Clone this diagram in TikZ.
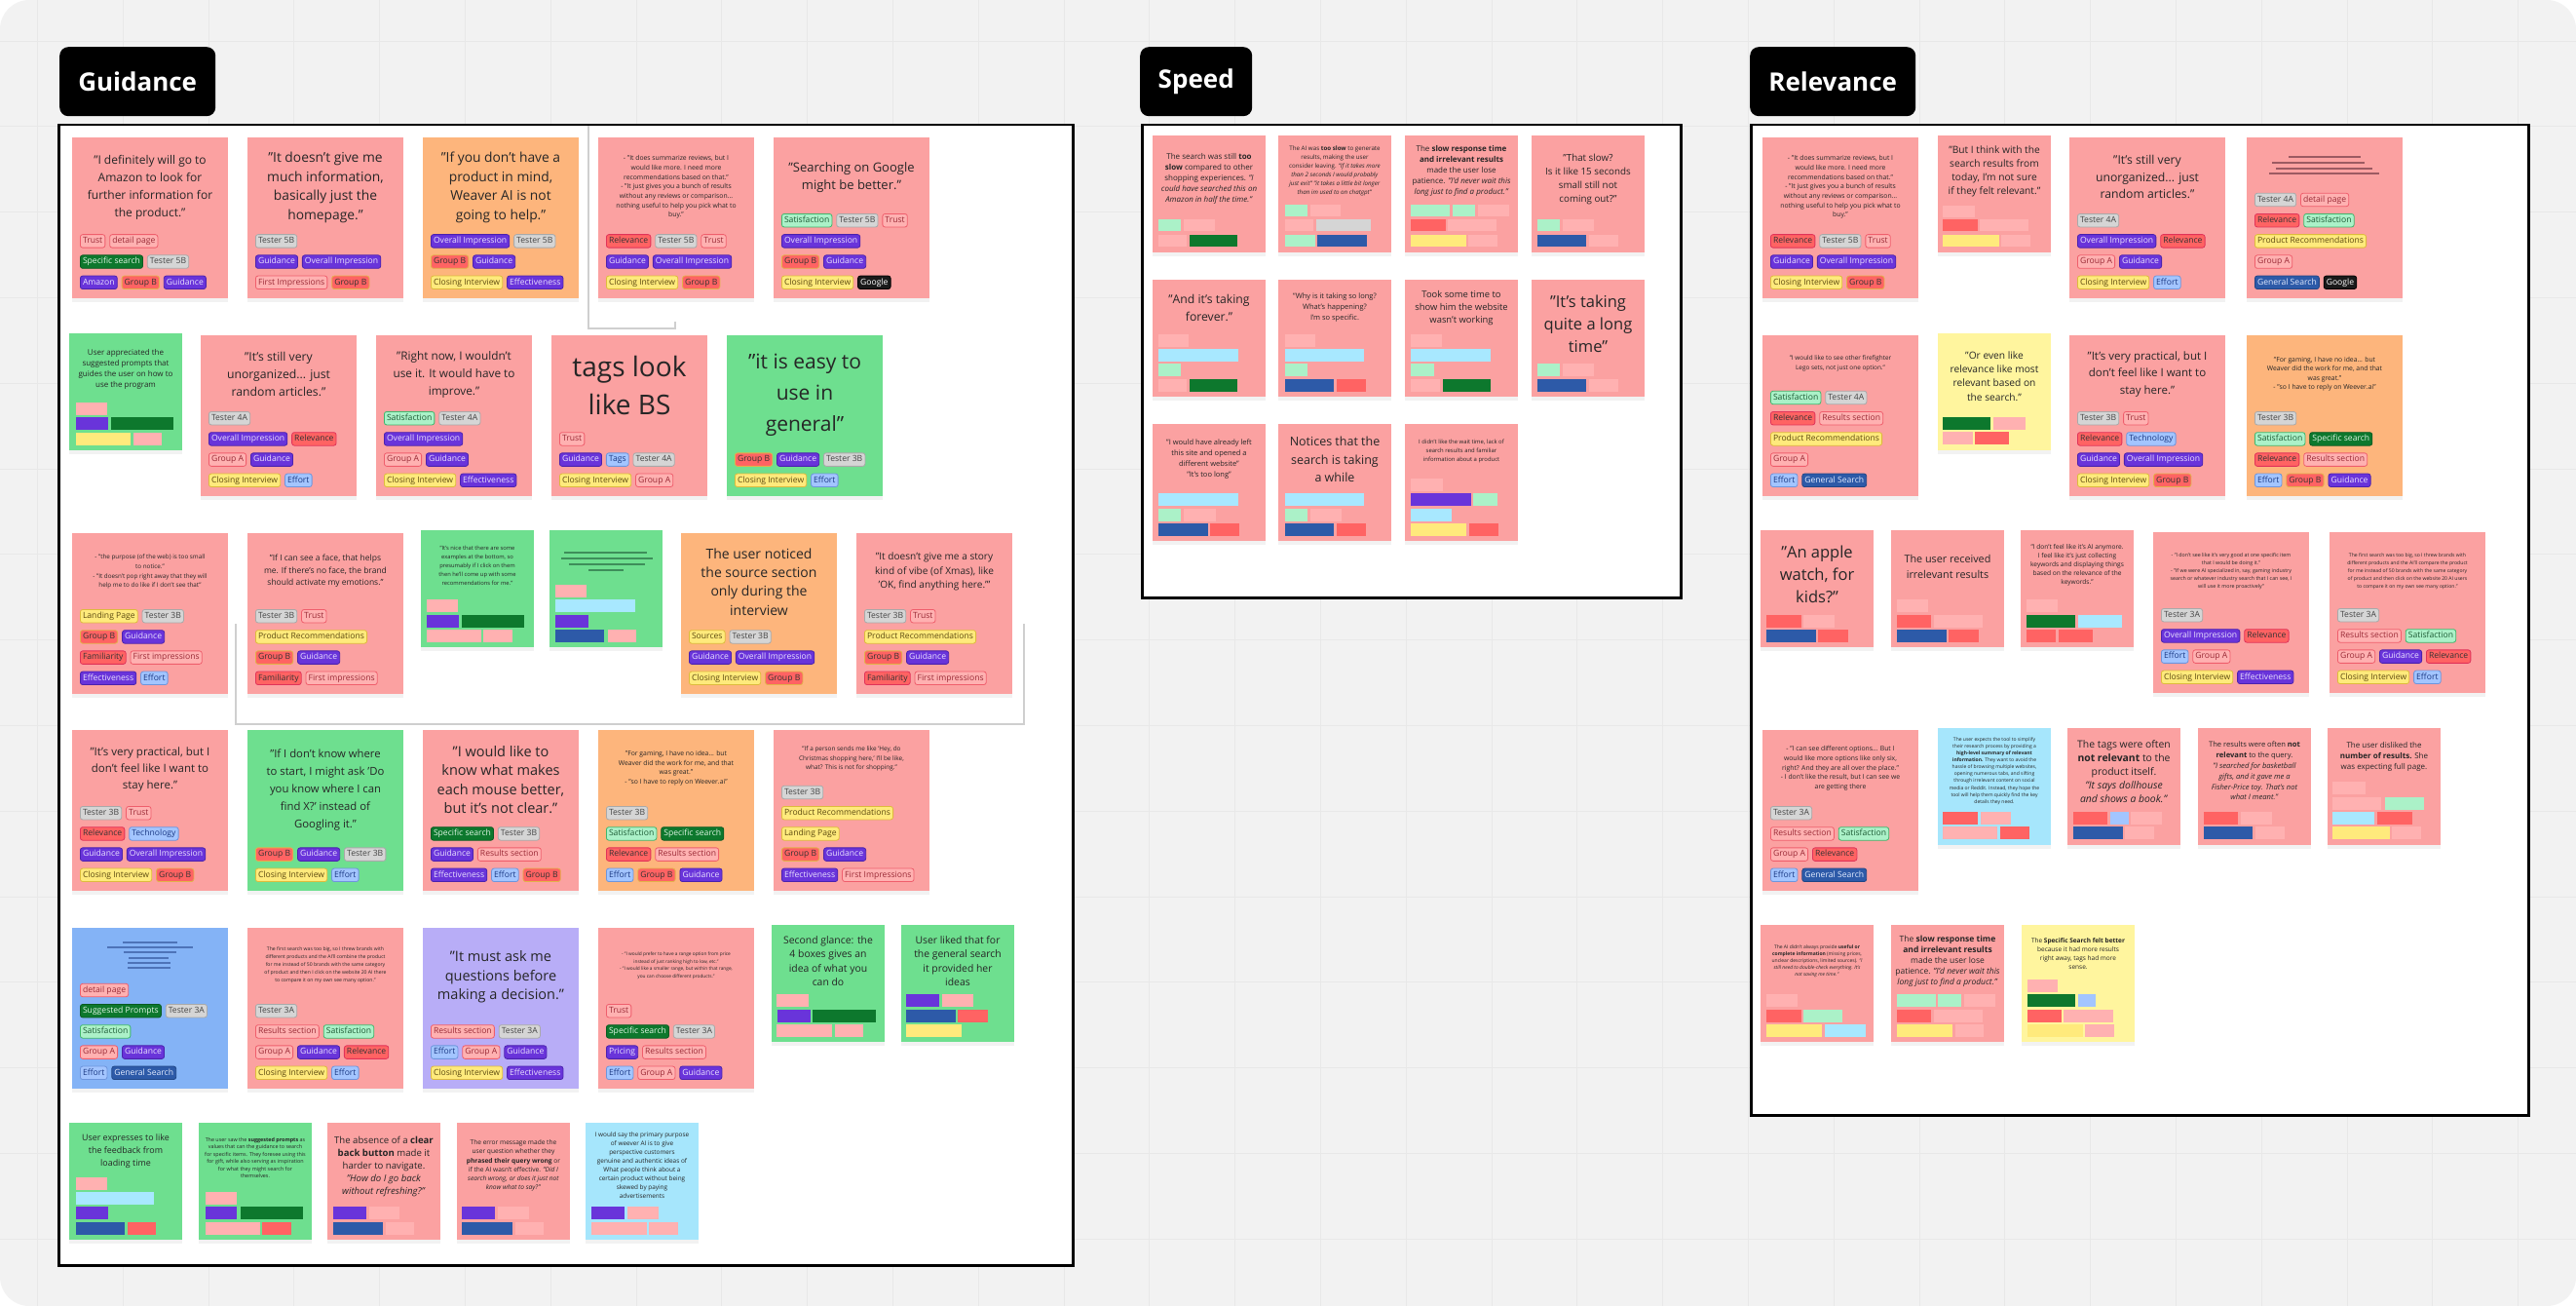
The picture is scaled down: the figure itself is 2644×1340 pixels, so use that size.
\documentclass[tikz,border=0pt]{standalone}
\usepackage{fontspec}
\setmainfont{Open Sans}
\usetikzlibrary{positioning,calc,shadows}
% sticky colours
\definecolor{ink}    {HTML}{262626}
\definecolor{board}  {HTML}{F2F2F2}
\definecolor{gridc}  {HTML}{E8E8E8}
\definecolor{faint}  {HTML}{CFCFCF}
\definecolor{cpink}  {HTML}{FBA1A1}
\definecolor{corange}{HTML}{FDB57C}
\definecolor{cgreen} {HTML}{6EDF8F}
\definecolor{cblue}  {HTML}{84B3F6}
\definecolor{cpurple}{HTML}{B8ADF7}
\definecolor{ccyan}  {HTML}{A6E6FC}
\definecolor{cyellow}{HTML}{FFF59E}
% tag / bar colours
\definecolor{bpk}  {HTML}{FFB1B1}
\definecolor{bred} {HTML}{FF6363}
\definecolor{bmint}{HTML}{ABF1C8}
\definecolor{bdg}  {HTML}{0D782D}
\definecolor{bpur} {HTML}{6934DA}
\definecolor{bnavy}{HTML}{2D5AA8}
\definecolor{bcyan}{HTML}{A8E8FF}
\definecolor{byel} {HTML}{FFEA7C}
\definecolor{bgray}{HTML}{D5D5D5}
\definecolor{bblue}{HTML}{A3C5FF}
% tag borders and tag text
\definecolor{relB} {HTML}{E0335A}
\definecolor{goldB}{HTML}{E2B24A}
\definecolor{trB}  {HTML}{EF5E6C}
\definecolor{trT}  {HTML}{9A2A36}
\definecolor{teB}  {HTML}{A9A9A9}
\definecolor{teT}  {HTML}{454545}
\definecolor{puB}  {HTML}{4B22AE}
\definecolor{puT}  {HTML}{EAE2FF}
\definecolor{dgB}  {HTML}{095A21}
\definecolor{dgT}  {HTML}{E0F6E5}
\definecolor{miB}  {HTML}{3FB76D}
\definecolor{miT}  {HTML}{1E5C36}
\definecolor{blB}  {HTML}{6E95DC}
\definecolor{blT}  {HTML}{1C3A84}
\definecolor{yeB}  {HTML}{DDBB3C}
\definecolor{yeT}  {HTML}{5C4A10}
\definecolor{naB}  {HTML}{1F4585}
\definecolor{naT}  {HTML}{E2EBFF}
\definecolor{blk}  {HTML}{1A1A1A}
\definecolor{phg}  {HTML}{3E8E5A}
\definecolor{phb}  {HTML}{4D73B8}
\definecolor{phr}  {HTML}{9C5A62}
\tikzset{
  card/.style   ={anchor=north west, inner sep=0pt,
                  drop shadow={shadow xshift=0pt,shadow yshift=-4pt,opacity=.10}},
  txt/.style    ={align=center, text=ink, inner sep=0pt},
  frame/.style  ={anchor=north west, draw=black, fill=white, line width=2.5pt, inner sep=0pt},
  hdr/.style    ={anchor=north west, fill=black, text=white, rounded corners=9pt,
                  font=\fontsize{26}{30}\selectfont\bfseries, inner sep=0pt},
  tag/.style    ={draw, rounded corners=2.5pt, line width=0.8pt, inner xsep=2.6pt,
                  inner ysep=0pt, minimum height=13.5pt, text height=6.4pt, text depth=1.8pt,
                  font=\fontsize{8.6}{9}\selectfont},
  tgrel/.style  ={fill=bred, draw=relB, text=black!80},
  tggb/.style   ={fill=bred, draw=goldB, text=black!80},
  tgt/.style    ={fill=bpk, draw=trB, text=trT},
  tgg/.style    ={fill=bgray, draw=teB, text=teT},
  tgp/.style    ={fill=bpur, draw=puB, text=puT},
  tgd/.style    ={fill=bdg, draw=dgB, text=dgT},
  tgm/.style    ={fill=bmint, draw=miB, text=miT},
  tgb/.style    ={fill=bblue, draw=blB, text=blT},
  tgy/.style    ={fill=byel, draw=yeB, text=yeT},
  tgn/.style    ={fill=bnavy, draw=naB, text=naT},
  tgk/.style    ={fill=blk, draw=black, text=white},
  phline/.style ={line width=2.2pt},
}
% sticky note: name, top-left, width, height, colour
\newcommand\card[5]{\node[card,fill=#5,minimum width=#3pt,minimum height=#4pt] (#1) at (#2) {};}
% note text: card name, centre, size, skip, text
\newcommand\cardtext[5]{\node[txt,font=\fontsize{#3}{#4}\selectfont] (#1t) at (#2) {#5};}
% one row of tags inside a card: card, row number, style/label list
\newcommand\tagnode[3]{\node[#1] (#2) {#3};}
\newcommand\tagrow[3]{%
  \coordinate (#1-r#2) at ($(#1.north west)+(8,{64+21.2*(#2-1)})$);
  \foreach [count=\ti, remember=\ti as \tp (initially 0)] \st/\tx in {#3}{%
    \ifnum\ti=1 \edef\tpos{anchor=west,at={(#1-r#2)}}\else\edef\tpos{right=4pt of #1-r#2-\tp}\fi
    \edef\topts{tag,\st,\tpos}%
    \expandafter\tagnode\expandafter{\topts}{#1-r#2-\ti}{\tx}}}
% blank tag bars: top y, list x1/x2/colour
\newcommand\barrow[2]{\foreach \xa/\xb/\bc in {#2}{\fill[fill=\bc] (\xa,#1) rectangle (\xb,#1+12.5);}}
% collapsed text lines: colour, list y/x1/x2
\newcommand\phlines[2]{\foreach \yy/\xa/\xb in {#2}{\draw[phline,draw=#1] (\xa,\yy) -- (\xb,\yy);}}

\begin{document}
\begin{tikzpicture}[x=1pt,y=-1pt]
\useasboundingbox (0,0) rectangle (2644,1340);
\fill[white] (0,0) rectangle (2644,1340);
\fill[board,rounded corners=30pt] (0,0) rectangle (2644,1340);
\foreach \gx in {38.4,126.2,...,2644} \draw[gridc,line width=0.8pt] (\gx,0) -- (\gx,1340);
\foreach \gy in {42,129.8,...,1340} \draw[gridc,line width=0.8pt] (0,\gy) -- (2644,\gy);

% frames and titles
\node[frame,minimum width=1041pt,minimum height=1170pt] (fguid) at (59,127) {};
\node[frame,minimum width=553pt,minimum height=485pt] (fspeed) at (1171,127) {};
\node[frame,minimum width=798pt,minimum height=1016pt] (frel) at (1796,127) {};
\node[hdr,minimum width=160pt,minimum height=71pt] (hguid) at (61,48) {Guidance};
\node[hdr,minimum width=115pt,minimum height=71pt] (hspeed) at (1170,48) {Speed};
\node[hdr,minimum width=170pt,minimum height=71pt] (hrel) at (1796,48) {Relevance};
\draw[faint,line width=1.2pt] (604,129) -- (604,337) -- (693,337) -- (693,330);
\draw[faint,line width=1.2pt] (242,640) -- (242,743) -- (1051,743) -- (1051,640);

% ---------------- Guidance ----------------
\card{g1}{74,141}{160}{165}{cpink}
\cardtext{g1}{154,192.5}{12}{17.8}{"I definitely will go to\\Amazon to look for\\further information for\\the product."}
\tagrow{g1}{3}{tgt/Trust,tgt/detail page}
\tagrow{g1}{4}{tgd/Specific search,tgg/Tester 5B}
\tagrow{g1}{5}{tgp/Amazon,tggb/Group B,tgp/Guidance}

\card{g2}{254,141}{160}{165}{cpink}
\cardtext{g2}{334,192.5}{13.8}{19.5}{"It doesn't give me\\much information,\\basically just the\\homepage."}
\tagrow{g2}{3}{tgg/Tester 5B}
\tagrow{g2}{4}{tgp/Guidance,tgp/Overall Impression}
\tagrow{g2}{5}{tgt/First Impressions,tggb/Group B}

\card{g3}{434,141}{160}{165}{corange}
\cardtext{g3}{514,192.5}{13.8}{19.7}{"If you don't have a\\product in mind,\\Weaver AI is not\\going to help."}
\tagrow{g3}{3}{tgp/Overall Impression,tgg/Tester 5B}
\tagrow{g3}{4}{tggb/Group B,tgp/Guidance}
\tagrow{g3}{5}{tgy/Closing Interview,tgp/Effectiveness}

\card{g4}{614,141}{160}{165}{cpink}
\cardtext{g4}{694,192}{6.8}{9.7}{- "It does summarize reviews, but I\\would like more. I need more\\recommendations based on that."\\- "It just gives you a bunch of results\\without any reviews or comparison...\\nothing useful to help you pick what to\\buy."}
\tagrow{g4}{3}{tgrel/Relevance,tgg/Tester 5B,tgt/Trust}
\tagrow{g4}{4}{tgp/Guidance,tgp/Overall Impression}
\tagrow{g4}{5}{tgy/Closing Interview,tggb/Group B}

\card{g5}{794,141}{160}{165}{cpink}
\cardtext{g5}{874,182}{13}{18}{"Searching on Google\\might be better."}
\tagrow{g5}{2}{tgm/Satisfaction,tgg/Tester 5B,tgt/Trust}
\tagrow{g5}{3}{tgp/Overall Impression}
\tagrow{g5}{4}{tggb/Group B,tgp/Guidance}
\tagrow{g5}{5}{tgy/Closing Interview,tgk/Google}

\card{g6}{71,342}{116}{120}{cgreen}
\cardtext{g6}{129,378.5}{8}{11}{User appreciated the\\suggested prompts that\\guides the user on how to\\use the program}
\barrow{413}{78/110/bpk}
\barrow{428}{78/111/bpur,114/178/bdg}
\barrow{444}{78/134/byel,137/166/bpk}

\card{g7}{206,344}{160}{165}{cpink}
\cardtext{g7}{286,384}{12.2}{17.8}{"It's still very\\unorganized... just\\random articles."}
\tagrow{g7}{2}{tgg/Tester 4A}
\tagrow{g7}{3}{tgp/Overall Impression,tgrel/Relevance}
\tagrow{g7}{4}{tgt/Group A,tgp/Guidance}
\tagrow{g7}{5}{tgy/Closing Interview,tgb/Effort}

\card{g8}{386,344}{160}{165}{cpink}
\cardtext{g8}{466,384}{11.8}{18}{"Right now, I wouldn't\\use it. It would have to\\improve."}
\tagrow{g8}{2}{tgm/Satisfaction,tgg/Tester 4A}
\tagrow{g8}{3}{tgp/Overall Impression}
\tagrow{g8}{4}{tgt/Group A,tgp/Guidance}
\tagrow{g8}{5}{tgy/Closing Interview,tgp/Effectiveness}

\card{g9}{566,344}{160}{165}{cpink}
\cardtext{g9}{646,395.5}{28}{39}{tags look\\like BS}
\tagrow{g9}{3}{tgt/Trust}
\tagrow{g9}{4}{tgp/Guidance,tgb/Tags,tgg/Tester 4A}
\tagrow{g9}{5}{tgy/Closing Interview,tgt/Group A}

\card{g10}{746,344}{160}{165}{cgreen}
\cardtext{g10}{826,405}{21}{32}{"it is easy to\\use in\\general"}
\tagrow{g10}{4}{tggb/Group B,tgp/Guidance,tgg/Tester 3B}
\tagrow{g10}{5}{tgy/Closing Interview,tgb/Effort}

\card{g11}{74,547}{160}{165}{cpink}
\cardtext{g11}{154,586.5}{6.3}{9.8}{- "the purpose (of the web) is too small\\to notice."\\- "It doesn't pop right away that they will\\help me to do like if I don't see that"}
\tagrow{g11}{2}{tgy/Landing Page,tgg/Tester 3B}
\tagrow{g11}{3}{tggb/Group B,tgp/Guidance}
\tagrow{g11}{4}{tgrel/Familiarity,tgt/First impressions}
\tagrow{g11}{5}{tgp/Effectiveness,tgb/Effort}

\card{g12}{254,547}{160}{165}{cpink}
\cardtext{g12}{334,586}{8.5}{12.3}{"If I can see a face, that helps\\me. If there's no face, the brand\\should activate my emotions."}
\tagrow{g12}{2}{tgg/Tester 3B,tgt/Trust}
\tagrow{g12}{3}{tgy/Product Recommendations}
\tagrow{g12}{4}{tggb/Group B,tgp/Guidance}
\tagrow{g12}{5}{tgrel/Familiarity,tgt/First impressions}

\card{g13}{432,544}{116}{120}{cgreen}
\cardtext{g13}{490,580}{5.8}{9}{"It's nice that there are some\\examples at the bottom, so\\presumably if I click on them\\then he'll come up with some\\recommendations for me."}
\barrow{615}{438/470/bpk}
\barrow{631}{438/471/bpur,474/538/bdg}
\barrow{646}{438/494/bpk,496/526/bpk}

\card{g14}{564,544}{116}{120}{cgreen}
\phlines{phg}{567/579/664,573/576/670,579/584/662,585/604/640}
\barrow{600}{570/602/bpk}
\barrow{615}{570/652/bcyan}
\barrow{631}{570/604/bpur}
\barrow{646}{570/620/bnavy,624/653/bpk}

\card{g15}{699,547}{160}{165}{corange}
\cardtext{g15}{779,597}{14}{19.3}{The user noticed\\the source section\\only during the\\interview}
\tagrow{g15}{3}{tgy/Sources,tgg/Tester 3B}
\tagrow{g15}{4}{tgp/Guidance,tgp/Overall Impression}
\tagrow{g15}{5}{tgy/Closing Interview,tggb/Group B}

\card{g16}{879,547}{160}{165}{cpink}
\cardtext{g16}{959,586.5}{10.1}{14.7}{"It doesn't give me a story\\kind of vibe (of Xmas), like\\'OK, find anything here.'"}
\tagrow{g16}{2}{tgg/Tester 3B,tgt/Trust}
\tagrow{g16}{3}{tgy/Product Recommendations}
\tagrow{g16}{4}{tggb/Group B,tgp/Guidance}
\tagrow{g16}{5}{tgrel/Familiarity,tgt/First impressions}

\card{g17}{74,749}{160}{165}{cpink}
\cardtext{g17}{154,789.5}{11.5}{17.3}{"It's very practical, but I\\don't feel like I want to\\stay here."}
\tagrow{g17}{2}{tgg/Tester 3B,tgt/Trust}
\tagrow{g17}{3}{tgrel/Relevance,tgb/Technology}
\tagrow{g17}{4}{tgp/Guidance,tgp/Overall Impression}
\tagrow{g17}{5}{tgy/Closing Interview,tggb/Group B}

\card{g18}{254,749}{160}{165}{cgreen}
\cardtext{g18}{334,810.5}{11.3}{17.8}{"If I don't know where\\to start, I might ask 'Do\\you know where I can\\find X?' instead of\\Googling it."}
\tagrow{g18}{4}{tggb/Group B,tgp/Guidance,tgg/Tester 3B}
\tagrow{g18}{5}{tgy/Closing Interview,tgb/Effort}

\card{g19}{434,749}{160}{165}{cpink}
\cardtext{g19}{514,800}{14.5}{19.3}{"I would like to\\know what makes\\each mouse better,\\but it's not clear."}
\tagrow{g19}{3}{tgd/Specific search,tgg/Tester 3B}
\tagrow{g19}{4}{tgp/Guidance,tgt/Results section}
\tagrow{g19}{5}{tgp/Effectiveness,tgb/Effort,tggb/Group B}

\card{g20}{614,749}{160}{165}{corange}
\cardtext{g20}{694,788}{6.8}{9.5}{"For gaming, I have no idea... but\\Weaver did the work for me, and that\\was great."\\- "so I have to reply on Weever.ai"}
\tagrow{g20}{2}{tgg/Tester 3B}
\tagrow{g20}{3}{tgm/Satisfaction,tgd/Specific search}
\tagrow{g20}{4}{tgrel/Relevance,tgt/Results section}
\tagrow{g20}{5}{tgb/Effort,tggb/Group B,tgp/Guidance}

\card{g21}{794,749}{160}{165}{cpink}
\cardtext{g21}{874,778.5}{6.4}{9.7}{"If a person sends me like 'Hey, do\\Christmas shopping here,' I'll be like,\\what? This is not for shopping."}
\tagrow{g21}{1}{tgg/Tester 3B}
\tagrow{g21}{2}{tgy/Product Recommendations}
\tagrow{g21}{3}{tgy/Landing Page}
\tagrow{g21}{4}{tggb/Group B,tgp/Guidance}
\tagrow{g21}{5}{tgp/Effectiveness,tgt/First Impressions}

\card{g22}{74,952}{160}{165}{cblue}
\phlines{phb}{967/126/182,972/110/198,977/127/181,983/132/173,988/131/175,993/131/175}
\tagrow{g22}{1}{tgt/detail page}
\tagrow{g22}{2}{tgd/Suggested Prompts,tgg/Tester 3A}
\tagrow{g22}{3}{tgm/Satisfaction}
\tagrow{g22}{4}{tgt/Group A,tgp/Guidance}
\tagrow{g22}{5}{tgb/Effort,tgn/General Search}

\card{g23}{254,952}{160}{165}{cpink}
\cardtext{g23}{334,990.5}{5.1}{8}{The first search was too big, so I threw brands with\\different products and the AI'll combine the product\\for me instead of 50 brands with the same category\\of product and then I click on the website 20 AI there\\to compare it on my own see many option."}
\tagrow{g23}{2}{tgg/Tester 3A}
\tagrow{g23}{3}{tgt/Results section,tgm/Satisfaction}
\tagrow{g23}{4}{tgt/Group A,tgp/Guidance,tgrel/Relevance}
\tagrow{g23}{5}{tgy/Closing Interview,tgb/Effort}

\card{g24}{434,952}{160}{165}{cpurple}
\cardtext{g24}{514,1002.5}{14.5}{19.5}{"It must ask me\\questions before\\making a decision."}
\tagrow{g24}{3}{tgt/Results section,tgg/Tester 3A}
\tagrow{g24}{4}{tgb/Effort,tgt/Group A,tgp/Guidance}
\tagrow{g24}{5}{tgy/Closing Interview,tgp/Effectiveness}

\card{g25}{614,952}{160}{165}{cpink}
\cardtext{g25}{694,990.5}{4.8}{7.5}{- "I would prefer to have a range option from price\\instead of just ranking high to low, etc."\\- "I would like a smaller range, but within that range,\\you can choose different products."}
\tagrow{g25}{2}{tgt/Trust}
\tagrow{g25}{3}{tgd/Specific search,tgg/Tester 3A}
\tagrow{g25}{4}{tgp/Pricing,tgt/Results section}
\tagrow{g25}{5}{tgb/Effort,tgt/Group A,tgp/Guidance}

\card{g26}{792,949}{116}{120}{cgreen}
\cardtext{g26}{850,986}{10.4}{14.2}{Second glance: the\\4 boxes gives an\\idea of what you\\can do}
\barrow{1020}{797/830/bpk}
\barrow{1036}{798/832/bpur,834/899/bdg}
\barrow{1051}{797/854/bpk,857/886/bpk}

\card{g27}{925,949}{116}{120}{cgreen}
\cardtext{g27}{983,986}{10.4}{14.2}{User liked that for\\the general search\\it provided her\\ideas}
\barrow{1020}{930/964/bpur,967/999/bpk}
\barrow{1036}{930/981/bnavy,983/1014/bred}
\barrow{1051}{930/987/byel}

\card{g28}{71,1152}{116}{120}{cgreen}
\cardtext{g28}{129,1181}{8.9}{12.7}{User expresses to like\\the feedback from\\loading time}
\barrow{1208}{78/110/bpk}
\barrow{1223}{78/158/bcyan}
\barrow{1238}{78/111/bpur}
\barrow{1254}{78/128/bnavy,131/160/bred}

\card{g29}{204,1152}{116}{120}{cgreen}
\cardtext{g29}{262,1188}{5.4}{7.4}{The user saw the \textbf{suggested prompts} as\\values that can the guidance to search\\for specific items. They foresee using this\\for gift, while also serving as inspiration\\for what they might search for\\themselves.}
\barrow{1223}{211/243/bpk}
\barrow{1238}{211/243/bpur,247/311/bdg}
\barrow{1254}{211/267/bpk,269/299/bred}

\card{g30}{336,1152}{116}{120}{cpink}
\cardtext{g30}{394,1197}{9.6}{13}{The absence of a \textbf{clear}\\\textbf{back button} made it\\harder to navigate.\\\textit{"How do I go back}\\\textit{without refreshing?"}}
\barrow{1238}{342/376/bpur,379/410/bpk}
\barrow{1254}{342/393/bnavy,396/425/bpk}

\card{g31}{469,1152}{116}{120}{cpink}
\cardtext{g31}{527,1196}{6.6}{9.2}{The error message made the\\user question whether they\\\textbf{phrased their query wrong} or\\if the AI wasn't effective. \textit{"Did I}\\\textit{search wrong, or does it just not}\\\textit{know what to say?"}}
\barrow{1238}{474/508/bpur,511/543/bpk}
\barrow{1254}{474/526/bnavy,529/558/bpk}

\card{g32}{601,1152}{116}{120}{ccyan}
\cardtext{g32}{659,1195.5}{6.4}{9}{I would say the primary purpose\\of weever AI is to give\\perspective customers\\genuine and authentic ideas of\\What people think about a\\certain product without being\\skewed by paying\\advertisements}
\barrow{1238}{607/641/bpur,644/676/bpk}
\barrow{1254}{607/664/bpk,666/696/bpk}

% ---------------- Speed ----------------
\card{s1}{1183,139}{116}{120}{cpink}
\cardtext{s1}{1241,183}{8}{11}{The search was still \textbf{too}\\\textbf{slow} compared to other\\shopping experiences. \textit{"I}\\\textit{could have searched this on}\\\textit{Amazon in half the time."}}
\barrow{225}{1189/1212/bmint,1215/1247/bpk}
\barrow{241}{1189/1218/bpk,1221/1270/bdg}

\card{s2}{1312,139}{116}{120}{cpink}
\cardtext{s2}{1370,175.5}{6.2}{9}{The AI was \textbf{too slow} to generate\\results, making the user\\consider leaving. \textit{"If it takes more}\\\textit{than 2 seconds I would probably}\\\textit{just exit" "it takes a little bit longer}\\\textit{than im used to on chatgpt"}}
\barrow{210}{1319/1342/bmint,1345/1376/bpk}
\barrow{225}{1319/1348/bpk,1351/1407/bgray}
\barrow{241}{1319/1350/bmint,1352/1403/bnavy}

\card{s3}{1442,139}{116}{120}{cpink}
\cardtext{s3}{1500,175.5}{8}{11}{The \textbf{slow response time}\\\textbf{and irrelevant results}\\made the user lose\\patience. \textit{"I'd never wait this}\\\textit{long just to find a product."}}
\barrow{210}{1448/1488/bmint,1491/1514/bmint,1517/1549/bpk}
\barrow{225}{1448/1484/bred,1486/1536/bpk}
\barrow{241}{1448/1505/byel,1507/1537/bpk}

\card{s4}{1572,139}{116}{120}{cpink}
\cardtext{s4}{1630,183.5}{9.8}{14}{"That slow?\\Is it like 15 seconds\\small still not\\coming out?"}
\barrow{225}{1578/1601/bmint,1604/1636/bpk}
\barrow{241}{1578/1628/bnavy,1631/1661/bpk}

\card{s5}{1183,287}{116}{120}{cpink}
\cardtext{s5}{1241,316}{12.2}{18}{"And it's taking\\forever."}
\barrow{343}{1189/1220/bpk}
\barrow{358}{1189/1271/bcyan}
\barrow{373}{1189/1212/bmint}
\barrow{389}{1189/1218/bpk,1221/1270/bdg}

\card{s6}{1312,287}{116}{120}{cpink}
\cardtext{s6}{1370,316}{7.5}{11}{"Why is it taking so long?\\What's happening?\\I'm so specific.}
\barrow{343}{1319/1350/bpk}
\barrow{358}{1319/1400/bcyan}
\barrow{373}{1319/1342/bmint}
\barrow{389}{1319/1369/bnavy,1372/1402/bred}

\card{s7}{1442,287}{116}{120}{cpink}
\cardtext{s7}{1500,316}{9.4}{13}{Took some time to\\show him the website\\wasn't working}
\barrow{343}{1448/1480/bpk}
\barrow{358}{1448/1530/bcyan}
\barrow{373}{1448/1472/bmint}
\barrow{389}{1448/1478/bpk,1481/1530/bdg}

\card{s8}{1572,287}{116}{120}{cpink}
\cardtext{s8}{1630,332}{16.5}{23}{"It's taking\\quite a long\\time"}
\barrow{373}{1578/1601/bmint,1604/1636/bpk}
\barrow{389}{1578/1628/bnavy,1631/1661/bpk}

\card{s9}{1183,435}{116}{120}{cpink}
\cardtext{s9}{1241,471.5}{7.5}{11}{"I would have already left\\this site and opened a\\different website"\\"It's too long"}
\barrow{506}{1189/1271/bcyan}
\barrow{522}{1189/1212/bmint,1215/1248/bpk}
\barrow{537}{1189/1240/bnavy,1242/1272/bred}

\card{s10}{1312,435}{116}{120}{cpink}
\cardtext{s10}{1370,471.5}{12.5}{18.5}{Notices that the\\search is taking\\a while}
\barrow{506}{1319/1400/bcyan}
\barrow{522}{1319/1342/bmint,1345/1377/bpk}
\barrow{537}{1319/1369/bnavy,1372/1402/bred}

\card{s11}{1442,435}{116}{120}{cpink}
\cardtext{s11}{1500,463}{5.9}{9}{I didn't like the wait time, lack of\\search results and familiar\\information about a product}
\barrow{491}{1448/1481/bpk}
\barrow{506}{1448/1510/bpur,1512/1537/bmint}
\barrow{522}{1448/1490/bcyan}
\barrow{537}{1448/1505/byel,1508/1538/bred}

% ---------------- Relevance ----------------
\card{r1}{1809,141}{160}{165}{cpink}
\cardtext{r1}{1889,192}{6.8}{9.7}{- "It does summarize reviews, but I\\would like more. I need more\\recommendations based on that."\\- "It just gives you a bunch of results\\without any reviews or comparison...\\nothing useful to help you pick what to\\buy."}
\tagrow{r1}{3}{tgrel/Relevance,tgg/Tester 5B,tgt/Trust}
\tagrow{r1}{4}{tgp/Guidance,tgp/Overall Impression}
\tagrow{r1}{5}{tgy/Closing Interview,tggb/Group B}

\card{r2}{1989,139}{116}{120}{cpink}
\cardtext{r2}{2047,176}{10.2}{14}{"But I think with the\\search results from\\today, I'm not sure\\if they felt relevant."}
\barrow{211}{1994/2027/bpk}
\barrow{225}{1994/2030/bred,2032/2082/bpk}
\barrow{241}{1994/2052/byel,2054/2084/bpk}

\card{r3}{2124,141}{160}{165}{cpink}
\cardtext{r3}{2204,181.5}{12.2}{17.8}{"It's still very\\unorganized... just\\random articles."}
\tagrow{r3}{2}{tgg/Tester 4A}
\tagrow{r3}{3}{tgp/Overall Impression,tgrel/Relevance}
\tagrow{r3}{4}{tgt/Group A,tgp/Guidance}
\tagrow{r3}{5}{tgy/Closing Interview,tgb/Effort}

\card{r4}{2306,141}{160}{165}{cpink}
\phlines{phr}{161/2349/2423,167/2332/2427,173/2336/2435,178/2329/2442}
\tagrow{r4}{1}{tgg/Tester 4A,tgt/detail page}
\tagrow{r4}{2}{tgrel/Relevance,tgm/Satisfaction}
\tagrow{r4}{3}{tgy/Product Recommendations}
\tagrow{r4}{4}{tgt/Group A}
\tagrow{r4}{5}{tgn/General Search,tgk/Google}

\card{r5}{1809,344}{160}{165}{cpink}
\cardtext{r5}{1889,373}{6.4}{10}{"I would like to see other firefighter\\Lego sets, not just one option."}
\tagrow{r5}{1}{tgm/Satisfaction,tgg/Tester 4A}
\tagrow{r5}{2}{tgrel/Relevance,tgt/Results section}
\tagrow{r5}{3}{tgy/Product Recommendations}
\tagrow{r5}{4}{tgt/Group A}
\tagrow{r5}{5}{tgb/Effort,tgn/General Search}

\card{r6}{1989,342}{116}{120}{cyellow}
\cardtext{r6}{2047,386}{10.2}{14.3}{"Or even like\\relevance like most\\relevant based on\\the search."}
\barrow{428}{1994/2043/bdg,2046/2079/bpk}
\barrow{443}{1994/2025/bpk,2027/2062/bred}

\card{r7}{2124,344}{160}{165}{cpink}
\cardtext{r7}{2204,384}{11.5}{17.3}{"It's very practical, but I\\don't feel like I want to\\stay here."}
\tagrow{r7}{2}{tgg/Tester 3B,tgt/Trust}
\tagrow{r7}{3}{tgrel/Relevance,tgb/Technology}
\tagrow{r7}{4}{tgp/Guidance,tgp/Overall Impression}
\tagrow{r7}{5}{tgy/Closing Interview,tggb/Group B}

\card{r8}{2306,344}{160}{165}{corange}
\cardtext{r8}{2386,383.5}{6.8}{9.5}{"For gaming, I have no idea... but\\Weaver did the work for me, and that\\was great."\\- "so I have to reply on Weever.ai"}
\tagrow{r8}{2}{tgg/Tester 3B}
\tagrow{r8}{3}{tgm/Satisfaction,tgd/Specific search}
\tagrow{r8}{4}{tgrel/Relevance,tgt/Results section}
\tagrow{r8}{5}{tgb/Effort,tggb/Group B,tgp/Guidance}

\card{r9}{1807,544}{116}{120}{cpink}
\cardtext{r9}{1865,589.5}{16.5}{23}{"An apple\\watch, for\\kids?"}
\barrow{631}{1813/1849/bred,1851/1883/bpk}
\barrow{646}{1813/1864/bnavy,1866/1897/bred}

\card{r10}{1941,544}{116}{120}{cpink}
\cardtext{r10}{1999,581}{10.8}{16}{The user received\\irrelevant results}
\barrow{615}{1947/1979/bpk}
\barrow{631}{1947/1982/bred,1985/2035/bpk}
\barrow{646}{1947/1998/bnavy,2000/2031/bred}

\card{r11}{2074,544}{116}{120}{cpink}
\cardtext{r11}{2132,580}{6.6}{9}{"I don't feel like it's AI anymore.\\I feel like it's just collecting\\keywords and displaying things\\based on the relevance of the\\keywords."}
\barrow{615}{2080/2112/bpk}
\barrow{631}{2080/2130/bdg,2133/2178/bcyan}
\barrow{646}{2080/2110/bred,2113/2148/bred}

\card{r12}{2210,546}{160}{165}{cpink}
\cardtext{r12}{2290,586}{5.3}{8}{- "I don't see like it's very good at one specific item\\that I would be doing it."\\- "If we were AI specialized in, say, gaming industry\\search or whatever industry search that I can see, I\\will use it more proactively"}
\tagrow{r12}{2}{tgg/Tester 3A}
\tagrow{r12}{3}{tgp/Overall Impression,tgrel/Relevance}
\tagrow{r12}{4}{tgb/Effort,tgt/Group A}
\tagrow{r12}{5}{tgy/Closing Interview,tgp/Effectiveness}

\card{r13}{2391,546}{160}{165}{cpink}
\cardtext{r13}{2471,586}{5.1}{8}{The first search was too big, so I threw brands with\\different products and the AI'll compare the product\\for me instead of 50 brands with the same category\\of product and then click on the website 20 AI users\\to compare it on my own see many option."}
\tagrow{r13}{2}{tgg/Tester 3A}
\tagrow{r13}{3}{tgt/Results section,tgm/Satisfaction}
\tagrow{r13}{4}{tgt/Group A,tgp/Guidance,tgrel/Relevance}
\tagrow{r13}{5}{tgy/Closing Interview,tgb/Effort}

\card{r14}{1809,749}{160}{165}{cpink}
\cardtext{r14}{1889,788.5}{6.8}{9.7}{- "I can see different options... But I\\would like more options like only six,\\right? And they are all over the place."\\- I don't like the result, but I can see we\\are getting there}
\tagrow{r14}{2}{tgg/Tester 3A}
\tagrow{r14}{3}{tgt/Results section,tgm/Satisfaction}
\tagrow{r14}{4}{tgt/Group A,tgrel/Relevance}
\tagrow{r14}{5}{tgb/Effort,tgn/General Search}

\card{r15}{1989,747}{116}{120}{ccyan}
\cardtext{r15}{2047,791}{5}{7.1}{The user expects the tool to simplify\\their research process by providing a\\\textbf{high-level summary of relevant}\\\textbf{information.} They want to avoid the\\hassle of browsing multiple websites,\\opening numerous tabs, and sifting\\through irrelevant content on social\\media or Reddit. Instead, they hope the\\tool will help them quickly find the key\\details they need.}
\barrow{833}{1994/2030/bred,2033/2064/bpk}
\barrow{848}{1994/2050/bpk,2053/2083/bred}

\card{r16}{2122,747}{116}{120}{cpink}
\cardtext{r16}{2180,791.5}{10.4}{14.2}{The tags were often\\\textbf{not relevant} to the\\product itself.\\\textit{"It says dollhouse}\\\textit{and shows a book."}}
\barrow{833}{2128/2163/bred,2166/2185/bblue,2187/2219/bpk}
\barrow{848}{2128/2179/bnavy,2181/2211/bpk}

\card{r17}{2256,747}{116}{120}{cpink}
\cardtext{r17}{2314,791}{7.6}{10.8}{The results were often \textbf{not}\\\textbf{relevant} to the query.\\\textit{"I searched for basketball}\\\textit{gifts, and it gave me a}\\\textit{Fisher-Price toy. That's not}\\\textit{what I meant."}}
\barrow{833}{2262/2297/bred,2300/2332/bpk}
\barrow{848}{2262/2312/bnavy,2315/2345/bpk}

\card{r18}{2389,747}{116}{120}{cpink}
\cardtext{r18}{2447,776}{8}{11}{The user disliked the\\\textbf{number of results.} She\\was expecting full page.}
\barrow{802}{2394/2428/bpk}
\barrow{818}{2394/2444/bpk,2448/2488/bmint}
\barrow{833}{2394/2437/bcyan,2440/2476/bred}
\barrow{848}{2394/2453/byel,2455/2485/bpk}

\card{r19}{1807,949}{116}{120}{cpink}
\cardtext{r19}{1865,986}{5}{7}{The AI didn't always provide \textbf{useful or}\\\textbf{complete information} (missing prices,\\unclear descriptions, limited sources). \textit{"I}\\\textit{still need to double-check everything. It's}\\\textit{not saving me time."}}
\barrow{1020}{1813/1845/bpk}
\barrow{1036}{1813/1849/bred,1851/1891/bmint}
\barrow{1051}{1813/1870/byel,1873/1915/bcyan}

\card{r20}{1941,949}{116}{120}{cpink}
\cardtext{r20}{1999,986}{8.5}{11}{The \textbf{slow response time}\\\textbf{and irrelevant results}\\made the user lose\\patience. \textit{"I'd never wait this}\\\textit{long just to find a product."}}
\barrow{1020}{1947/1987/bmint,1989/2013/bmint,2016/2048/bpk}
\barrow{1036}{1947/1982/bred,1985/2035/bpk}
\barrow{1051}{1947/2004/byel,2007/2036/bpk}

\card{r21}{2075,949}{116}{120}{cyellow}
\cardtext{r21}{2133,978.5}{6.5}{9}{The \textbf{Specific Search felt better}\\because it had more results\\right away, tags had more\\sense.}
\barrow{1005}{2081/2112/bpk}
\barrow{1020}{2081/2130/bdg,2133/2151/bblue}
\barrow{1036}{2081/2116/bred,2118/2169/bpk}
\barrow{1051}{2081/2138/byel,2140/2170/bpk}
\end{tikzpicture}
\end{document}
